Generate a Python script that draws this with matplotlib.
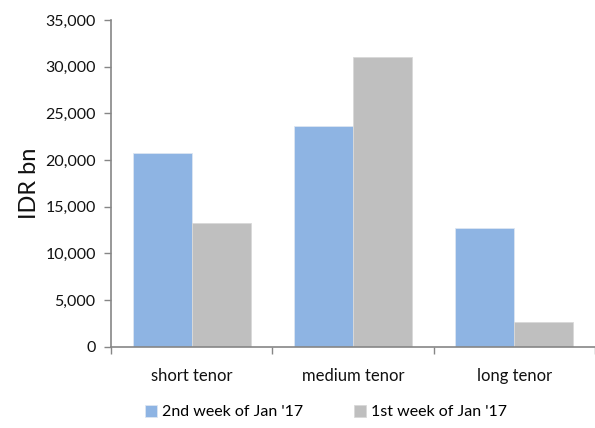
import numpy as np
import matplotlib.pyplot as plt
from matplotlib.ticker import FuncFormatter, FixedLocator

plt.rcParams['font.family'] = ['Lato', 'DejaVu Sans']

categories = ['short tenor', 'medium tenor', 'long tenor']
week2 = [20800, 23600, 12750]
week1 = [13300, 31050, 2650]
series_names = ["2nd week of Jan '17", "1st week of Jan '17"]

blue = '#8EB4E3'
grey = '#BFBFBF'
axis_col = '#868686'

fig = plt.figure(figsize=(5.95, 4.28), dpi=100)
ax = fig.add_axes([0.1866, 0.19, 0.8134, 0.763])

x = np.arange(len(categories))
w = 0.365
ax.bar(x - w / 2, week2, w, color=blue, edgecolor='#DCE6F2', linewidth=0.6, label=series_names[0])
ax.bar(x + w / 2, week1, w, color=grey, edgecolor='#D9D9D9', linewidth=0.6, label=series_names[1])

ax.set_xlim(-0.5, 2.5)
ax.set_ylim(0, 35000)
ax.set_yticks(np.arange(0, 35001, 5000))
ax.yaxis.set_major_formatter(FuncFormatter(lambda v, p: f'{int(v):,}'))

# category labels in the middle, tick marks on the boundaries
ax.set_xticks(x)
ax.set_xticklabels(categories)
ax.tick_params(axis='x', which='major', length=0, pad=15, labelsize=12, colors='#111111')
ax.xaxis.set_minor_locator(FixedLocator([-0.5, 0.5, 1.5, 2.5]))
ax.tick_params(axis='x', which='minor', length=5, width=1, color=axis_col)
ax.tick_params(axis='y', length=5, width=1, color=axis_col, labelsize=11.5,
               labelcolor='#111111', pad=6)

for s in ['top', 'right']:
    ax.spines[s].set_visible(False)
for s in ['left', 'bottom']:
    ax.spines[s].set_color(axis_col)
    ax.spines[s].set_linewidth(1.2)

ax.set_ylabel('IDR bn', fontsize=17, labelpad=4, color='#111111')

leg = fig.legend(loc='center', bbox_to_anchor=(0.548, 0.037), ncol=2, frameon=False,
                 fontsize=11.5, handlelength=0.75, handleheight=0.75,
                 handletextpad=0.3, columnspacing=3.2)

fig.savefig('out.png', dpi=100)
